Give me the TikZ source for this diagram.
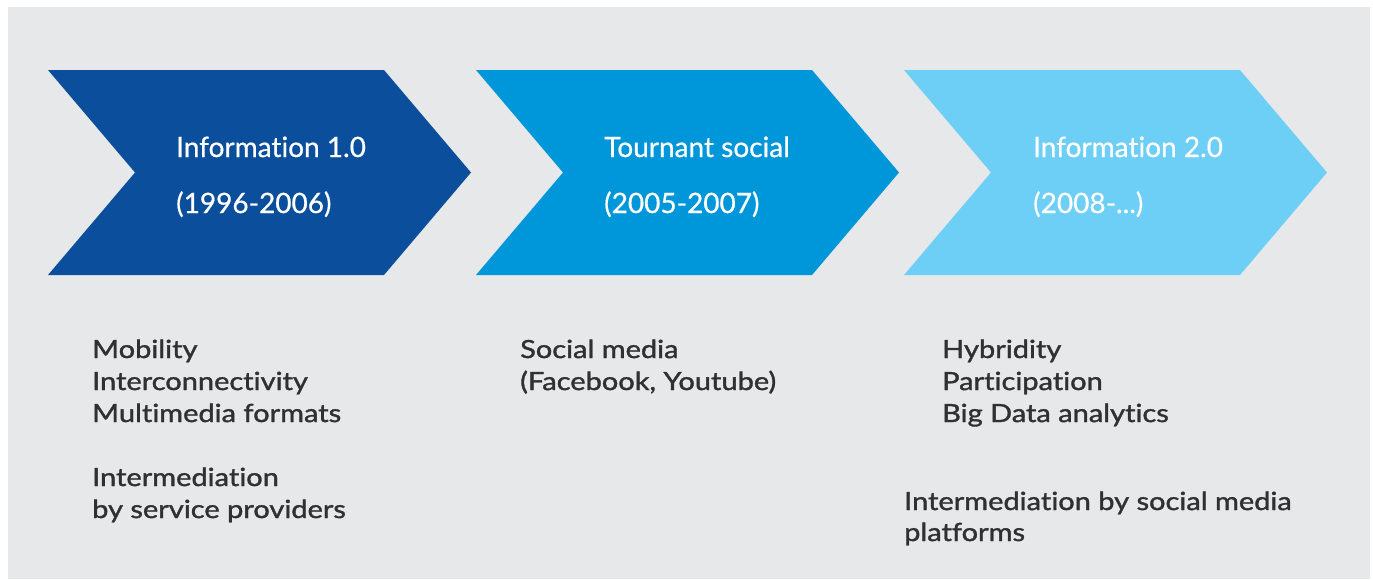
\documentclass[tikz,border=0pt]{standalone}
\usepackage{fontspec}
\setmainfont{Lato}[Ligatures=NoCommon]
\newfontfamily\titlefont{Lato}[Ligatures=NoCommon, FakeBold=0.6]
\newfontfamily\featfont{Lato}[Ligatures=NoCommon, FakeStretch=1.16, FakeBold=1.4]
\usepackage{xcolor}
\definecolor{infoA}{HTML}{0B4F9C}
\definecolor{infoB}{HTML}{0096DA}
\definecolor{infoC}{HTML}{6DCFF6}
\definecolor{panel}{HTML}{E7E8EA}
\definecolor{ink}{HTML}{303033}
\tikzset{
  title/.style={anchor=base west,inner sep=0pt,text=white,font=\titlefont\fontsize{28}{30}\selectfont},
  feature/.style={anchor=base west,inner sep=0pt,text=ink,font=\featfont\fontsize{25}{28}\selectfont}
}

\begin{document}
\begin{tikzpicture}[x=1pt,y=-1pt]
\useasboundingbox (0,0) rectangle (1373,579);
\fill[panel] (8,7) rectangle (1370,579);
% the three chevrons
\foreach \x/\col in {48/infoA, 476/infoB, 904/infoC} {
  \fill[\col] (\x,70) -- ++(336,0) -- ++(87,102.5) -- ++(-87,102.5) -- ++(-336,0) -- ++(87,-102.5) -- cycle;
}
\node[title] (era1) at (176,157) {Information 1.0};
\node[title] (yrs1) at (176,213) {(1996-2006)};
\node[title] (era2) at (604,157) {Tournant social};
\node[title] (yrs2) at (604,213) {(2005-2007)};
\node[title] (era3) at (1033,157) {Information 2.0};
\node[title] (yrs3) at (1033,213) {(2008-...)};
% features below each chevron
\foreach \y/\lab [count=\i] in {358/Mobility, 390/Interconnectivity, 422/Multimedia formats,
    486/Intermediation, 518/by service providers} {
  \node[feature] (featA\i) at (92,\y) {\lab};
}
\foreach \y/\lab [count=\i] in {358/Social media, 390/{(Facebook, Youtube)}} {
  \node[feature] (featB\i) at (520,\y) {\lab};
}
\foreach \y/\lab [count=\i] in {358/Hybridity, 390/Participation, 422/Big Data analytics} {
  \node[feature] (featC\i) at (942,\y) {\lab};
}
\node[feature] (featC4) at (904,510) {Intermediation by social media};
\node[feature] (featC5) at (904,541) {platforms};
\end{tikzpicture}
\end{document}
